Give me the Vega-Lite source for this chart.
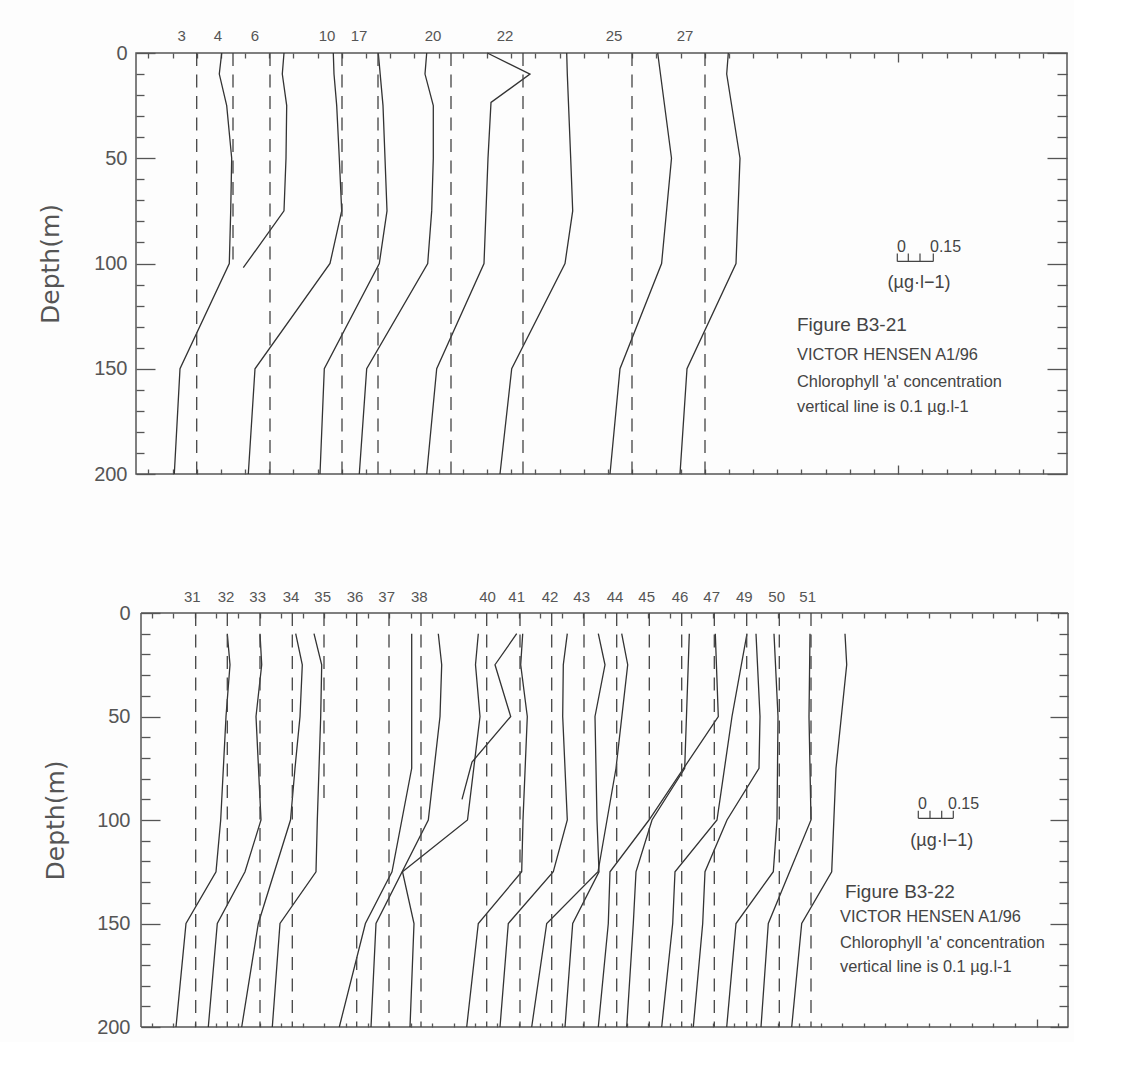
{
  "$schema": "https://vega.github.io/schema/vega-lite/v6.json",
  "padding": {"left": 37, "top": 28, "right": 5, "bottom": 5},
  "background": "#fdfdfd",
  "spacing": 105,
  "align": "none",
  "config": {
    "view": {"stroke": "#555", "strokeWidth": 1.5},
    "axis": {"domain": false, "grid": false, "tickColor": "#555", "tickWidth": 1.3, "labels": false, "labelFlush": false}
  },
  "datasets": {
    "tp": [
      {"s":"3","d":0,"x":85.7},{"s":"3","d":10,"x":83.3},{"s":"3","d":25,"x":90.7},{"s":"3","d":50,"x":95.7},{"s":"3","d":75,"x":94.7},{"s":"3","d":100,"x":93.3},{"s":"3","d":150,"x":44},{"s":"3","d":200,"x":38.3},
      {"s":"4","d":0,"x":148},{"s":"4","d":10,"x":146.3},{"s":"4","d":25,"x":150.7},{"s":"4","d":50,"x":150},{"s":"4","d":75,"x":148},{"s":"4","d":102,"x":107.3},
      {"s":"6","d":0,"x":197.3},{"s":"6","d":10,"x":198},{"s":"6","d":25,"x":200.7},{"s":"6","d":50,"x":203.3},{"s":"6","d":75,"x":205.7},{"s":"6","d":100,"x":194},{"s":"6","d":150,"x":119},{"s":"6","d":200,"x":112.3},
      {"s":"10","d":0,"x":242.3},{"s":"10","d":25,"x":247},{"s":"10","d":50,"x":249},{"s":"10","d":75,"x":251},{"s":"10","d":100,"x":243.3},{"s":"10","d":150,"x":188.3},{"s":"10","d":200,"x":184},
      {"s":"17","d":0,"x":290.7},{"s":"17","d":10,"x":289},{"s":"17","d":25,"x":297.3},{"s":"17","d":50,"x":297.3},{"s":"17","d":75,"x":295.7},{"s":"17","d":100,"x":291.7},{"s":"17","d":150,"x":230.7},{"s":"17","d":200,"x":223.3},
      {"s":"20","d":0,"x":351.3},{"s":"20","d":10,"x":394},{"s":"20","d":23.5,"x":355},{"s":"20","d":50,"x":352},{"s":"20","d":100,"x":348},{"s":"20","d":150,"x":300.7},{"s":"20","d":200,"x":290.7},
      {"s":"22","d":0,"x":430.7},{"s":"22","d":10,"x":431.3},{"s":"22","d":50,"x":434.7},{"s":"22","d":75,"x":436.7},{"s":"22","d":100,"x":429},{"s":"22","d":150,"x":375.7},{"s":"22","d":200,"x":364},
      {"s":"25","d":0,"x":521.7},{"s":"25","d":50,"x":535.5},{"s":"25","d":100,"x":525.6},{"s":"25","d":150,"x":484},{"s":"25","d":200,"x":474},
      {"s":"27","d":0,"x":592.3},{"s":"27","d":10,"x":590.7},{"s":"27","d":50,"x":604},{"s":"27","d":100,"x":600},{"s":"27","d":150,"x":551},{"s":"27","d":200,"x":544}
    ],
    "tr": [
      {"s":"3","x":60.7,"d0":0,"d1":200},{"s":"4","x":97,"d0":0,"d1":102},{"s":"6","x":134,"d0":0,"d1":200},{"s":"10","x":206,"d0":0,"d1":200},{"s":"17","x":242,"d0":0,"d1":200},
      {"s":"20","x":315,"d0":0,"d1":200},{"s":"22","x":387,"d0":0,"d1":200},{"s":"25","x":496,"d0":0,"d1":200},{"s":"27","x":569,"d0":0,"d1":200}
    ],
    "tl": [
      {"s":"3","x":45.7},{"s":"4","x":82},{"s":"6","x":119},{"s":"10","x":191},{"s":"17","x":223},{"s":"20","x":297},{"s":"22","x":369},{"s":"25","x":478},{"s":"27","x":549}
    ],
    "tn": [
      {"k":"fig","t":"Figure B3-21","x":661,"d":129},
      {"k":"line","t":"VICTOR HENSEN A1/96","x":661,"d":143.3},
      {"k":"line","t":"Chlorophyll 'a' concentration","x":661,"d":156.2},
      {"k":"line","t":"vertical line is 0.1 µg.l-1","x":661,"d":168},
      {"k":"unit","t":"(µg·l−1)","x":783,"d":109.5},
      {"k":"num","t":"0","x":761,"d":92},
      {"k":"num","t":"0.15","x":794,"d":92}
    ],
    "tsb": [
      {"x":761.3,"x2":797.3,"y":99,"y2":99},{"x":761.3,"x2":761.3,"y":95.2,"y2":99},{"x":772.3,"x2":772.3,"y":95.2,"y2":99},{"x":784,"x2":784,"y":95.2,"y2":99},{"x":797.3,"x2":797.3,"y":95.2,"y2":99}
    ],
    "bp": [
      {"s":"31","d":10,"x":86.3},{"s":"31","d":25,"x":89},{"s":"31","d":50,"x":85},{"s":"31","d":100,"x":79.7},{"s":"31","d":125,"x":75},{"s":"31","d":150,"x":45},{"s":"31","d":200,"x":35},
      {"s":"32","d":10,"x":119},{"s":"32","d":25,"x":120.7},{"s":"32","d":50,"x":115},{"s":"32","d":100,"x":120},{"s":"32","d":125,"x":104},{"s":"32","d":150,"x":76.3},{"s":"32","d":200,"x":67.3},
      {"s":"33","d":10,"x":154.7},{"s":"33","d":25,"x":161.3},{"s":"33","d":50,"x":159},{"s":"33","d":75,"x":154},{"s":"33","d":100,"x":149.5},{"s":"33","d":150,"x":117.3},{"s":"33","d":200,"x":100.7},
      {"s":"34","d":10,"x":173},{"s":"34","d":25,"x":180.7},{"s":"34","d":50,"x":179.7},{"s":"34","d":100,"x":176.3},{"s":"34","d":125,"x":175},{"s":"34","d":150,"x":139},{"s":"34","d":200,"x":131.3},
      {"s":"35","d":10,"x":270.7},{"s":"35","d":75,"x":270.7},{"s":"35","d":125,"x":251},{"s":"35","d":150,"x":224.4},{"s":"35","d":200,"x":198.3},
      {"s":"36","d":10,"x":297.3},{"s":"36","d":25,"x":300.7},{"s":"36","d":50,"x":299},{"s":"36","d":100,"x":287.3},{"s":"36","d":150,"x":235},{"s":"36","d":200,"x":230},
      {"s":"37","d":10,"x":337.3},{"s":"37","d":25,"x":334.5},{"s":"37","d":50,"x":339},{"s":"37","d":100,"x":326.5},{"s":"37","d":125,"x":261.5},{"s":"37","d":150,"x":273},{"s":"37","d":200,"x":269},
      {"s":"38","d":10,"x":375.7},{"s":"38","d":25,"x":354},{"s":"38","d":50,"x":369.7},{"s":"38","d":72,"x":331},{"s":"38","d":90,"x":321},
      {"s":"40","d":10,"x":381.7},{"s":"40","d":25,"x":379.7},{"s":"40","d":50,"x":386.3},{"s":"40","d":100,"x":382},{"s":"40","d":125,"x":380.7},{"s":"40","d":150,"x":337.3},{"s":"40","d":200,"x":325.7},
      {"s":"41","d":10,"x":426.3},{"s":"41","d":25,"x":422.3},{"s":"41","d":50,"x":421.7},{"s":"41","d":100,"x":426.3},{"s":"41","d":125,"x":412.3},{"s":"41","d":150,"x":367.3},{"s":"41","d":200,"x":359},
      {"s":"42","d":10,"x":457.3},{"s":"42","d":25,"x":464},{"s":"42","d":50,"x":454},{"s":"42","d":100,"x":456},{"s":"42","d":125,"x":458},{"s":"42","d":150,"x":431.7},{"s":"42","d":200,"x":424},
      {"s":"43","d":10,"x":480.7},{"s":"43","d":25,"x":486.7},{"s":"43","d":75,"x":475},{"s":"43","d":125,"x":457},{"s":"43","d":150,"x":405.7},{"s":"43","d":200,"x":390.7},
      {"s":"44","d":10,"x":548.3},{"s":"44","d":75,"x":543.7},{"s":"44","d":100,"x":511},{"s":"44","d":125,"x":495},{"s":"44","d":150,"x":492.3},{"s":"44","d":200,"x":485.7},
      {"s":"45","d":10,"x":574.3},{"s":"45","d":50,"x":577.3},{"s":"45","d":100,"x":508},{"s":"45","d":125,"x":469},{"s":"45","d":150,"x":467.3},{"s":"45","d":200,"x":457.3},
      {"s":"46","d":10,"x":606},{"s":"46","d":50,"x":591},{"s":"46","d":100,"x":576},{"s":"46","d":125,"x":534},{"s":"46","d":150,"x":531.7},{"s":"46","d":200,"x":520.7},
      {"s":"47","d":10,"x":615},{"s":"47","d":50,"x":619},{"s":"47","d":75,"x":618},{"s":"47","d":100,"x":586},{"s":"47","d":125,"x":564},{"s":"47","d":150,"x":561.7},{"s":"47","d":200,"x":552.3},
      {"s":"49","d":10,"x":633},{"s":"49","d":50,"x":637},{"s":"49","d":100,"x":636},{"s":"49","d":125,"x":632.3},{"s":"49","d":150,"x":595},{"s":"49","d":200,"x":585.7},
      {"s":"50","d":10,"x":669},{"s":"50","d":50,"x":668},{"s":"50","d":100,"x":670},{"s":"50","d":150,"x":627.3},{"s":"50","d":200,"x":620},
      {"s":"51","d":10,"x":704},{"s":"51","d":25,"x":705.7},{"s":"51","d":75,"x":695},{"s":"51","d":125,"x":690.7},{"s":"51","d":150,"x":660.7},{"s":"51","d":200,"x":650.7}
    ],
    "br": [
      {"s":"31","x":54.7,"d0":0,"d1":200},{"s":"32","x":86.3,"d0":0,"d1":200},{"s":"33","x":119,"d0":0,"d1":200},{"s":"34","x":151.3,"d0":0,"d1":200},{"s":"35","x":183,"d0":0,"d1":90},
      {"s":"36","x":215.7,"d0":0,"d1":200},{"s":"37","x":248,"d0":0,"d1":200},{"s":"38","x":280,"d0":0,"d1":200},{"s":"40","x":345.7,"d0":0,"d1":200},{"s":"41","x":379,"d0":0,"d1":200},
      {"s":"42","x":410.7,"d0":0,"d1":200},{"s":"43","x":443,"d0":0,"d1":200},{"s":"44","x":475.7,"d0":0,"d1":200},{"s":"45","x":508.3,"d0":0,"d1":200},{"s":"46","x":540.7,"d0":0,"d1":200},
      {"s":"47","x":573.3,"d0":0,"d1":200},{"s":"49","x":605.7,"d0":0,"d1":200},{"s":"50","x":638.3,"d0":0,"d1":200},{"s":"51","x":670,"d0":0,"d1":200}
    ],
    "bl": [
      {"s":"31","x":51.3},{"s":"32","x":85},{"s":"33","x":116.7},{"s":"34","x":150},{"s":"35","x":181.7},{"s":"36","x":214},{"s":"37","x":245.7},{"s":"38","x":278.3},{"s":"40","x":346.5},{"s":"41","x":375.7},
      {"s":"42","x":409},{"s":"43","x":440.7},{"s":"44","x":474},{"s":"45","x":505.7},{"s":"46","x":539},{"s":"47","x":570.7},{"s":"49","x":603.3},{"s":"50","x":635.7},{"s":"51","x":666.7}
    ],
    "bn": [
      {"k":"fig","t":"Figure B3-22","x":704,"d":134.8},
      {"k":"line","t":"VICTOR HENSEN A1/96","x":699,"d":146.9},
      {"k":"line","t":"Chlorophyll 'a' concentration","x":699,"d":159.4},
      {"k":"line","t":"vertical line is 0.1 µg.l-1","x":699,"d":171},
      {"k":"unit","t":"(µg·l−1)","x":800.7,"d":110},
      {"k":"num","t":"0","x":777,"d":92.3},
      {"k":"num","t":"0.15","x":807,"d":92.3}
    ],
    "bsb": [
      {"x":777.3,"x2":812.3,"y":99.2,"y2":99.2},{"x":777.3,"x2":777.3,"y":95.5,"y2":99.2},{"x":789,"x2":789,"y":95.5,"y2":99.2},{"x":800.7,"x2":800.7,"y":95.5,"y2":99.2},{"x":812.3,"x2":812.3,"y":95.5,"y2":99.2}
    ],
    "bframe": [
      {"x":0,"x2":0,"y":0,"y2":200},{"x":927,"x2":927,"y":0,"y2":200},{"x":0,"x2":927,"y":0,"y2":0},{"x":0,"x2":927,"y":200,"y2":200}
    ]
  },
  "vconcat": [
    {
      "width": 931, "height": 421,
      "resolve": {"axis": {"x": "independent", "y": "independent"}},
      "layer": [
        {
          "data": {"name": "tp"},
          "mark": {"type": "line", "color": "#333", "strokeWidth": 1.3},
          "encoding": {
            "x": {"field": "x", "type": "quantitative", "scale": {"domain": [0, 931], "nice": false, "zero": false},
                  "axis": {"orient": "top", "tickSize": -5, "title": null, "values": [12.3,36.5,60.7,84.9,109.1,133.2,157.4,181.6,205.8,230,254.2,278.4,302.6,326.8,351,375.2,399.3,423.5,447.7,471.9,496.1,520.3,544.5,568.7,592.9,617.1,641.3,665.4,689.6,713.8,738,786.4,810.6,834.8,859,883.2,907.4]}},
            "y": {"field": "d", "type": "quantitative", "scale": {"domain": [0, 200], "reverse": true, "nice": false, "zero": false},
                  "axis": {"orient": "left", "tickSize": -8, "title": null, "values": [10,20,30,40,60,70,80,90,110,120,130,140,160,170,180,190]}},
            "detail": {"field": "s", "type": "nominal"},
            "order": {"field": "d", "type": "quantitative"}
          }
        },
        {
          "data": {"name": "tr"},
          "mark": {"type": "rule", "color": "#444", "strokeWidth": 1.3, "strokeDash": [13, 8.5]},
          "encoding": {
            "x": {"field": "x", "type": "quantitative", "scale": {"domain": [0, 931], "nice": false, "zero": false},
                  "axis": {"orient": "bottom", "tickSize": -5, "title": null, "values": [12.3,36.5,60.7,84.9,109.1,133.2,157.4,181.6,205.8,230,254.2,278.4,302.6,326.8,351,375.2,399.3,423.5,447.7,471.9,496.1,520.3,544.5,568.7,592.9,617.1,641.3,665.4,689.6,713.8,738,786.4,810.6,834.8,859,883.2,907.4]}},
            "y": {"field": "d0", "type": "quantitative", "scale": {"domain": [0, 200], "reverse": true, "nice": false, "zero": false},
                  "axis": {"orient": "left", "values": [0,50,100,150,200], "tickSize": -19, "labels": true, "labelPadding": 28, "labelFont": "Liberation Sans", "labelFontSize": 20, "labelColor": "#555", "labelOverlap": false,
                           "title": "Depth(m)", "titleFont": "DejaVu Sans", "titleFontSize": 25, "titleFontWeight": "normal", "titleColor": "#555", "titlePadding": 30}},
            "y2": {"field": "d1"}
          }
        },
        {
          "data": {"name": "tl"},
          "mark": {"type": "text", "font": "Liberation Sans", "fontSize": 15, "color": "#555", "baseline": "middle", "align": "center"},
          "encoding": {
            "x": {"field": "x", "type": "quantitative", "scale": {"domain": [0, 931], "nice": false, "zero": false},
                  "axis": {"orient": "top", "values": [762.2], "tickSize": -9, "title": null}},
            "y": {"datum": -8.1, "type": "quantitative", "scale": {"domain": [0, 200], "reverse": true, "nice": false, "zero": false}, "axis": null},
            "text": {"field": "s"}
          }
        },
        {
          "data": {"name": "tn"},
          "transform": [{"filter": "datum.k === 'fig'"}],
          "mark": {"type": "text", "font": "Liberation Sans", "fontSize": 19, "color": "#444", "baseline": "middle", "align": "left"},
          "encoding": {
            "x": {"field": "x", "type": "quantitative", "scale": {"domain": [0, 931], "nice": false, "zero": false},
                  "axis": {"orient": "bottom", "values": [762.2], "tickSize": -9, "title": null}},
            "y": {"field": "d", "type": "quantitative", "scale": {"domain": [0, 200], "reverse": true, "nice": false, "zero": false},
                  "axis": {"orient": "right", "tickSize": -10, "title": null, "values": [10,20,30,40,60,70,80,90,110,120,130,140,160,170,180,190]}},
            "text": {"field": "t"}
          }
        },
        {
          "data": {"name": "tn"},
          "transform": [{"filter": "datum.k === 'line'"}],
          "mark": {"type": "text", "font": "Liberation Sans", "fontSize": 16.4, "color": "#444", "baseline": "middle", "align": "left"},
          "encoding": {
            "x": {"field": "x", "type": "quantitative", "scale": {"domain": [0, 931], "nice": false, "zero": false}, "axis": null},
            "y": {"field": "d", "type": "quantitative", "scale": {"domain": [0, 200], "reverse": true, "nice": false, "zero": false},
                  "axis": {"orient": "right", "tickSize": -20, "title": null, "values": [0,50,100,150,200]}},
            "text": {"field": "t"}
          }
        },
        {
          "data": {"name": "tn"},
          "transform": [{"filter": "datum.k === 'unit'"}],
          "mark": {"type": "text", "font": "Liberation Sans", "fontSize": 18, "color": "#444", "baseline": "middle", "align": "center"},
          "encoding": {
            "x": {"field": "x", "type": "quantitative", "scale": {"domain": [0, 931], "nice": false, "zero": false}, "axis": null},
            "y": {"field": "d", "type": "quantitative", "scale": {"domain": [0, 200], "reverse": true, "nice": false, "zero": false}, "axis": null},
            "text": {"field": "t"}
          }
        },
        {
          "data": {"name": "tn"},
          "transform": [{"filter": "datum.k === 'num'"}],
          "mark": {"type": "text", "font": "Liberation Sans", "fontSize": 16, "color": "#444", "baseline": "middle", "align": "left"},
          "encoding": {
            "x": {"field": "x", "type": "quantitative", "scale": {"domain": [0, 931], "nice": false, "zero": false}, "axis": null},
            "y": {"field": "d", "type": "quantitative", "scale": {"domain": [0, 200], "reverse": true, "nice": false, "zero": false}, "axis": null},
            "text": {"field": "t"}
          }
        },
        {
          "data": {"name": "tsb"},
          "mark": {"type": "rule", "color": "#444", "strokeWidth": 1.2},
          "encoding": {
            "x": {"field": "x", "type": "quantitative", "scale": {"domain": [0, 931], "nice": false, "zero": false}, "axis": null},
            "x2": {"field": "x2"},
            "y": {"field": "y", "type": "quantitative", "scale": {"domain": [0, 200], "reverse": true, "nice": false, "zero": false}, "axis": null},
            "y2": {"field": "y2"}
          }
        }
      ]
    },
    {
      "width": 932, "height": 414,
      "view": {"stroke": null},
      "resolve": {"axis": {"x": "independent", "y": "independent"}},
      "layer": [
        {
          "data": {"name": "bframe"},
          "mark": {"type": "rule", "color": "#555", "strokeWidth": 1.5},
          "encoding": {
            "x": {"field": "x", "type": "quantitative", "scale": {"domain": [-5, 927], "nice": false, "zero": false}, "axis": null},
            "x2": {"field": "x2"},
            "y": {"field": "y", "type": "quantitative", "scale": {"domain": [0, 200], "reverse": true, "nice": false, "zero": false}, "axis": null},
            "y2": {"field": "y2"}
          }
        },
        {
          "data": {"name": "bp"},
          "mark": {"type": "line", "color": "#333", "strokeWidth": 1.3},
          "encoding": {
            "x": {"field": "x", "type": "quantitative", "scale": {"domain": [-5, 927], "nice": false, "zero": false},
                  "axis": {"orient": "top", "tickSize": -5, "title": null, "values": [10.7,32.3,53.9,75.4,97,118.6,140.2,161.8,183.3,204.9,226.5,248.1,269.7,291.2,312.8,334.4,356,377.6,399.1,420.7,442.3,463.9,485.5,507,528.6,550.2,571.8,593.4,614.9,636.5,658.1,679.7,701.3,722.8,744.4,766,787.6,809.2,830.7,852.3,873.9,917.1]}},
            "y": {"field": "d", "type": "quantitative", "scale": {"domain": [0, 200], "reverse": true, "nice": false, "zero": false},
                  "axis": {"orient": "left", "offset": -5, "tickSize": -9, "title": null, "values": [10,20,30,40,60,70,80,90,110,120,130,140,160,170,180,190]}},
            "detail": {"field": "s", "type": "nominal"},
            "order": {"field": "d", "type": "quantitative"}
          }
        },
        {
          "data": {"name": "br"},
          "mark": {"type": "rule", "color": "#444", "strokeWidth": 1.3, "strokeDash": [13, 8.5]},
          "encoding": {
            "x": {"field": "x", "type": "quantitative", "scale": {"domain": [-5, 927], "nice": false, "zero": false},
                  "axis": {"orient": "bottom", "tickSize": -4, "title": null, "values": [10.7,32.3,53.9,75.4,97,118.6,140.2,161.8,183.3,204.9,226.5,248.1,269.7,291.2,312.8,334.4,356,377.6,399.1,420.7,442.3,463.9,485.5,507,528.6,550.2,571.8,593.4,614.9,636.5,658.1,679.7,701.3,722.8,744.4,766,787.6,809.2,830.7,852.3,873.9,917.1]}},
            "y": {"field": "d0", "type": "quantitative", "scale": {"domain": [0, 200], "reverse": true, "nice": false, "zero": false},
                  "axis": {"orient": "left", "offset": -5, "values": [0,50,100,150,200], "tickSize": -19, "labels": true, "labelPadding": 30, "labelFont": "Liberation Sans", "labelFontSize": 20, "labelColor": "#555", "labelOverlap": false,
                           "title": "Depth(m)", "titleFont": "DejaVu Sans", "titleFontSize": 25, "titleFontWeight": "normal", "titleColor": "#555", "titlePadding": 28}},
            "y2": {"field": "d1"}
          }
        },
        {
          "data": {"name": "bl"},
          "mark": {"type": "text", "font": "Liberation Sans", "fontSize": 15, "color": "#555", "baseline": "middle", "align": "center"},
          "encoding": {
            "x": {"field": "x", "type": "quantitative", "scale": {"domain": [-5, 927], "nice": false, "zero": false},
                  "axis": {"orient": "top", "values": [895.5], "tickSize": -8, "title": null}},
            "y": {"datum": -7.7, "type": "quantitative", "scale": {"domain": [0, 200], "reverse": true, "nice": false, "zero": false}, "axis": null},
            "text": {"field": "s"}
          }
        },
        {
          "data": {"name": "bn"},
          "transform": [{"filter": "datum.k === 'fig'"}],
          "mark": {"type": "text", "font": "Liberation Sans", "fontSize": 19, "color": "#444", "baseline": "middle", "align": "left"},
          "encoding": {
            "x": {"field": "x", "type": "quantitative", "scale": {"domain": [-5, 927], "nice": false, "zero": false},
                  "axis": {"orient": "bottom", "values": [895.5], "tickSize": -8, "title": null}},
            "y": {"field": "d", "type": "quantitative", "scale": {"domain": [0, 200], "reverse": true, "nice": false, "zero": false},
                  "axis": {"orient": "right", "tickSize": -9, "title": null, "values": [10,20,30,40,60,70,80,90,110,120,130,140,160,170,180,190]}},
            "text": {"field": "t"}
          }
        },
        {
          "data": {"name": "bn"},
          "transform": [{"filter": "datum.k === 'line'"}],
          "mark": {"type": "text", "font": "Liberation Sans", "fontSize": 16.4, "color": "#444", "baseline": "middle", "align": "left"},
          "encoding": {
            "x": {"field": "x", "type": "quantitative", "scale": {"domain": [-5, 927], "nice": false, "zero": false}, "axis": null},
            "y": {"field": "d", "type": "quantitative", "scale": {"domain": [0, 200], "reverse": true, "nice": false, "zero": false},
                  "axis": {"orient": "right", "tickSize": -18, "title": null, "values": [0,50,100,150,200]}},
            "text": {"field": "t"}
          }
        },
        {
          "data": {"name": "bn"},
          "transform": [{"filter": "datum.k === 'unit'"}],
          "mark": {"type": "text", "font": "Liberation Sans", "fontSize": 18, "color": "#444", "baseline": "middle", "align": "center"},
          "encoding": {
            "x": {"field": "x", "type": "quantitative", "scale": {"domain": [-5, 927], "nice": false, "zero": false}, "axis": null},
            "y": {"field": "d", "type": "quantitative", "scale": {"domain": [0, 200], "reverse": true, "nice": false, "zero": false}, "axis": null},
            "text": {"field": "t"}
          }
        },
        {
          "data": {"name": "bn"},
          "transform": [{"filter": "datum.k === 'num'"}],
          "mark": {"type": "text", "font": "Liberation Sans", "fontSize": 16, "color": "#444", "baseline": "middle", "align": "left"},
          "encoding": {
            "x": {"field": "x", "type": "quantitative", "scale": {"domain": [-5, 927], "nice": false, "zero": false}, "axis": null},
            "y": {"field": "d", "type": "quantitative", "scale": {"domain": [0, 200], "reverse": true, "nice": false, "zero": false}, "axis": null},
            "text": {"field": "t"}
          }
        },
        {
          "data": {"name": "bsb"},
          "mark": {"type": "rule", "color": "#444", "strokeWidth": 1.2},
          "encoding": {
            "x": {"field": "x", "type": "quantitative", "scale": {"domain": [-5, 927], "nice": false, "zero": false}, "axis": null},
            "x2": {"field": "x2"},
            "y": {"field": "y", "type": "quantitative", "scale": {"domain": [0, 200], "reverse": true, "nice": false, "zero": false}, "axis": null},
            "y2": {"field": "y2"}
          }
        }
      ]
    }
  ]
}
